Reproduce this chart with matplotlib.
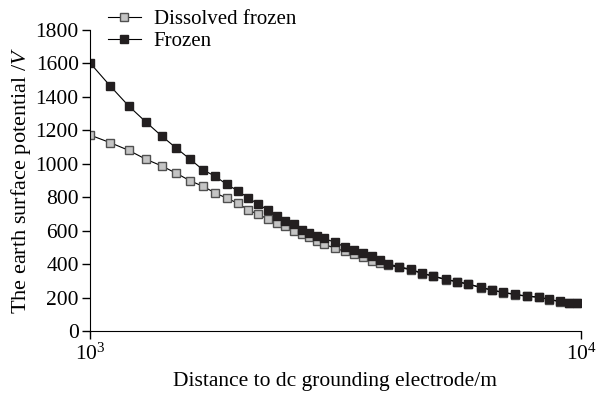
import matplotlib
matplotlib.use('Agg')
import matplotlib.pyplot as plt

plt.rcParams['font.family'] = 'Liberation Serif'
plt.rcParams['mathtext.fontset'] = 'custom'
plt.rcParams['mathtext.rm'] = 'Liberation Serif'
plt.rcParams['mathtext.it'] = 'Liberation Serif:italic'

# distance to grounding electrode (m)
distance = [1000, 1100, 1200, 1300, 1400, 1500, 1600, 1700, 1800, 1900,
            2000, 2100, 2200, 2300, 2400, 2500, 2600, 2700, 2800, 2900,
            3000, 3150, 3300, 3450, 3600, 3750, 3900, 4050, 4250, 4500,
            4750, 5000, 5300, 5600, 5900, 6250, 6600, 6950, 7350, 7750,
            8200, 8600, 9050, 9450, 9800]

frozen = [1604, 1465, 1345, 1250, 1166, 1093, 1027, 963, 925, 876,
          839, 796, 759, 724, 690, 660, 638, 604, 588, 570,
          554, 530, 504, 484, 465, 446, 425, 401, 385, 369,
          345, 329, 309, 295, 281, 261, 245, 231, 219, 209,
          203, 190, 177, 168, 168]

dissolved = [1172, 1126, 1080, 1027, 987, 943, 898, 865, 825, 794,
             764, 724, 698, 670, 644, 628, 600, 580, 564, 540,
             520, 494, 478, 460, 440, 420, 408, 394, 380, 366,
             343, 327, 307, 293, 279, 259, 243, 229, 217, 207,
             201, 188, 175, 166, 166]

fig = plt.figure(figsize=(5.99, 3.94), dpi=100)
ax = fig.add_axes([0.150, 0.160, 0.820, 0.764])

ax.plot(distance, dissolved, '-s', color='black', lw=0.8,
        markersize=5.5, markerfacecolor='#c4c4c4', markeredgecolor='#505050',
        markeredgewidth=1.0, label='Dissolved frozen')
ax.plot(distance, frozen, '-s', color='black', lw=0.8,
        markersize=5.5, markerfacecolor='#231f20', markeredgecolor='#231f20',
        markeredgewidth=1.0, label='Frozen')

ax.set_xscale('log')
ax.set_xlim(1000, 10000)
ax.set_ylim(0, 1800)
ax.set_xticks([1000, 10000])
ax.set_xticklabels(['$10^3$', '$10^4$'])
ax.minorticks_off()
ax.set_yticks(range(0, 1801, 200))

ax.spines['top'].set_visible(False)
ax.spines['right'].set_visible(False)
ax.tick_params(direction='out', length=6, width=1, labelsize=15.5, pad=2)
ax.tick_params(axis='x', pad=3)

ax.set_xlabel('Distance to dc grounding electrode/m', fontsize=15.5, labelpad=5)
ax.set_ylabel('The earth surface potential /$V$', fontsize=16, labelpad=2)

fig.legend(loc='upper left', bbox_to_anchor=(0.152, 1.018), frameon=False,
           fontsize=15, handlelength=1.6, labelspacing=0.12, borderpad=0.3,
           handletextpad=0.6)

fig.savefig('out.png', dpi=100)
